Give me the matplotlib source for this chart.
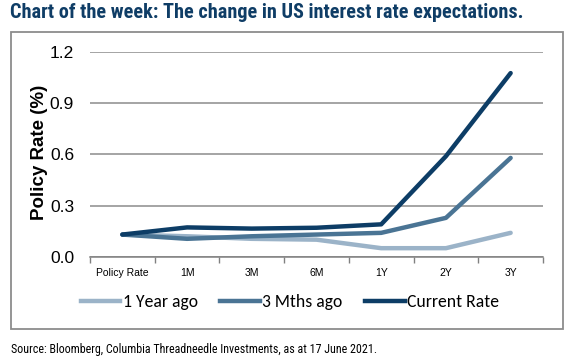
import matplotlib
matplotlib.use("Agg")
import matplotlib.pyplot as plt
from matplotlib.patches import Rectangle
from matplotlib.lines import Line2D
import numpy as np

categories = ["Policy Rate", "1M", "3M", "6M", "1Y", "2Y", "3Y"]
year_ago = [0.13, 0.12, 0.105, 0.10, 0.05, 0.05, 0.14]
three_mths = [0.13, 0.105, 0.12, 0.13, 0.14, 0.228, 0.58]
current = [0.13, 0.172, 0.165, 0.17, 0.19, 0.59, 1.078]
yticks = [0.0, 0.3, 0.6, 0.9, 1.2]
series_names = ["1 Year ago", "3 Mths ago", "Current Rate"]
colors = ["#9bb3c8", "#4a7494", "#0d3d66"]

W, H = 573, 364
fig = plt.figure(figsize=(W / 100, H / 100), dpi=100)

def fx(px):
    return px / W

def fy(py):
    return 1 - py / H

NARROW = ["Roboto Condensed", "Archivo Narrow", "DejaVu Sans"]
ARIAL = ["Liberation Sans", "DejaVu Sans"]

# frame
fig.patches.append(Rectangle((fx(11), fy(329)), fx(563) - fx(11), fy(32) - fy(329),
                             transform=fig.transFigure, fill=False, edgecolor="#8c8c8c", lw=1.3))

fig.text(fx(10), fy(12), "Chart of the week: The change in US interest rate expectations.",
         family=NARROW, fontweight="bold", fontsize=14.6,
         color="#0f3d66", va="center", ha="left")

ax = fig.add_axes([fx(90), fy(256.7), fx(543) - fx(90), fy(52.3) - fy(256.7)])
x = np.arange(len(categories))
for vals, c in zip([year_ago, three_mths, current], colors):
    ax.plot(x, vals, color=c, lw=3.2, solid_capstyle="round", solid_joinstyle="round")

ax.set_xlim(-0.5, len(categories) - 0.5)
ax.set_ylim(0, 1.2)
ax.set_yticks(yticks)
ax.set_yticklabels([f"{v:.1f}" for v in yticks], family=ARIAL, fontsize=12.5)
ax.yaxis.grid(True, color="#8c8c8c", lw=1.1)
ax.set_axisbelow(True)
ax.tick_params(axis="y", length=0, pad=11.5)
for s in ["top", "right", "left"]:
    ax.spines[s].set_visible(False)
ax.spines["bottom"].set_color("#808080")
ax.spines["bottom"].set_linewidth(1.1)

ax.set_xticks(x)
ax.set_xticklabels(categories, family=ARIAL, fontsize=7.5)
ax.set_xticks(np.arange(-0.5, len(categories)), minor=True)
ax.tick_params(axis="x", which="major", length=0, pad=8)
ax.tick_params(axis="x", which="minor", length=4, color="#808080", width=1)

fig.text(fx(39), fy(152), "Policy Rate (%)", rotation=90, family=ARIAL,
         fontweight="bold", fontsize=13.5, ha="center", va="center")

handles = [Line2D([], [], color=c, lw=3.2) for c in colors]
fig.legend(handles, series_names, loc="center", bbox_to_anchor=(fx(290), fy(302)), ncol=3,
           frameon=False, prop={"family": ["Carlito", "DejaVu Sans"], "size": 12.7},
           handlelength=2.25, handletextpad=0.12, columnspacing=1.3)

fig.text(fx(11), fy(350), "Source: Bloomberg, Columbia Threadneedle Investments, as at 17 June 2021.",
         family=NARROW, fontsize=8.65, ha="left", va="center")

fig.savefig("out.png", dpi=100)
